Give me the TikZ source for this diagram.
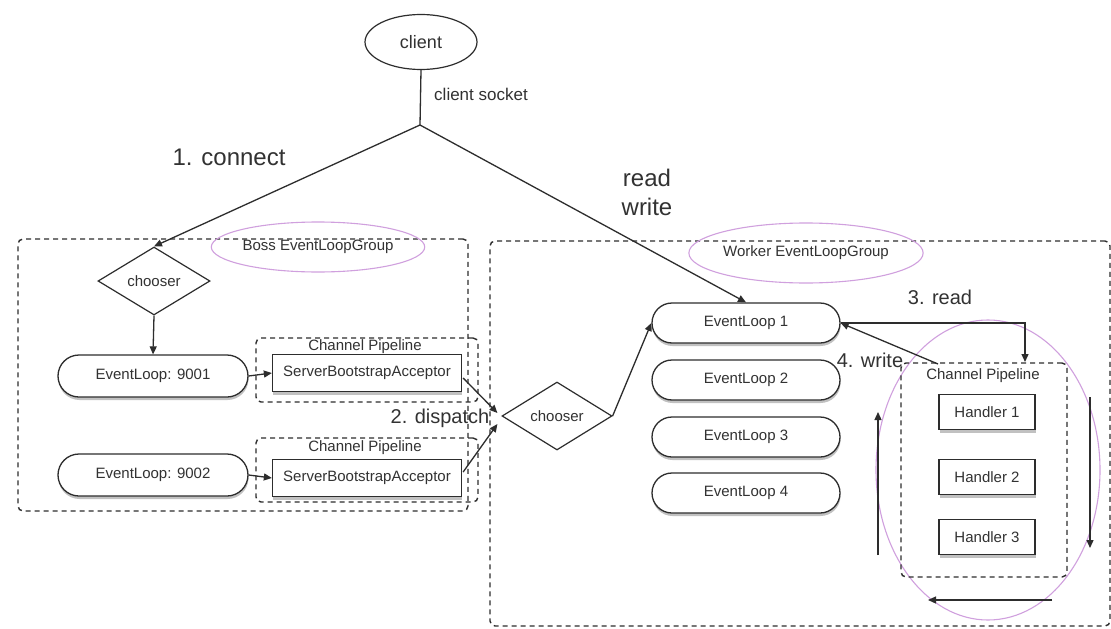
\documentclass[tikz,border=0pt]{standalone}
\usepackage{fontspec}
\setmainfont{Liberation Sans}
\usetikzlibrary{arrows.meta,shapes.geometric,shadows,calc}
\definecolor{ink}{RGB}{45,45,45}
\definecolor{txt}{RGB}{50,50,50}
\definecolor{orchid}{RGB}{208,160,222}
\tikzset{
  every node/.style={text=txt},
  small/.style={font=\fontsize{15}{18}\selectfont},
  mid/.style={font=\fontsize{20}{24}\selectfont},
  big/.style={font=\fontsize{24}{29}\selectfont},
  conn/.style={draw=ink, line width=1.3pt},
  arr/.style={conn, -{Triangle[length=8pt,width=7pt]}},
  grp/.style={draw=ink, line width=1.4pt, dash pattern=on 5pt off 4pt, rounded corners=5pt, inner sep=0pt},
  pinkell/.style={ellipse, draw=orchid, line width=1.1pt, inner sep=0pt, small},
  dia/.style={diamond, draw=ink, line width=1.2pt, inner sep=0pt, small},
  shad/.style={drop shadow={shadow xshift=0.5pt, shadow yshift=-3pt, opacity=0.3, fill=black!80}},
  pill/.style={rectangle, rounded corners=20pt, draw=ink, line width=1.3pt, fill=white, minimum width=188pt, minimum height=40pt, inner sep=0pt, small, shad},
  hbox/.style={rectangle, draw=ink, line width=1.3pt, fill=white, inner sep=0pt, small, shad},
}
\begin{document}
\begin{tikzpicture}[x=1pt,y=-1pt]
\useasboundingbox (0,0) rectangle (1111,629);
\fill[white] (0,0) rectangle (1111,629);

% client
\node[ellipse, draw=ink, line width=1.2pt, minimum width=112pt, minimum height=55pt, inner sep=0pt, font=\fontsize{18}{21}\selectfont] (client) at (421,42) {client};
\coordinate (junc) at (420,125);
\node[font=\fontsize{17}{20}\selectfont] (sock) at (481,94) {client socket};
\node[big] (connect) at (229,157) {1. connect};
\node[big, align=center] (rw) at (647,192) {read\\write};

% Boss group
\node[grp, minimum width=450pt, minimum height=272pt] (boss) at (243,375) {};
\node[pinkell, minimum width=175pt, minimum height=50pt] (bosslbl) at (318,247) {Boss EventLoopGroup};
\node[dia, minimum width=112pt, minimum height=68pt] (ch1) at (154,281) {chooser};

\node[pill, minimum width=190pt, minimum height=42pt, rounded corners=21pt] (el9001) at (153,376) {EventLoop: 9001};
\node[grp, minimum width=222pt, minimum height=64pt] (pp1) at (367,370) {};
\node[small] (pt1) at (365,347) {Channel Pipeline};
\node[hbox, minimum width=189pt, minimum height=37pt] (sba1) at (367,373) {ServerBootstrapAcceptor};

\node[pill, minimum width=190pt, minimum height=42pt, rounded corners=21pt] (el9002) at (153,475) {EventLoop: 9002};
\node[grp, minimum width=222pt, minimum height=64pt] (pp2) at (367,470) {};
\node[small] (pt2) at (365,448) {Channel Pipeline};
\node[hbox, minimum width=189pt, minimum height=37pt] (sba2) at (367,478) {ServerBootstrapAcceptor};

\node[mid] (disp) at (440,418) {2. dispatch};

% Worker group
\node[grp, minimum width=620pt, minimum height=385pt] (worker) at (800,433.5) {};
\node[pinkell, minimum width=190pt, minimum height=60pt] (wlbl) at (806,253) {Worker EventLoopGroup};
\node[dia, minimum width=110pt, minimum height=68pt] (ch2) at (557,416) {chooser};

\node[pill] (el1) at (746,323) {EventLoop 1};
\node[pill] (el2) at (746,380) {EventLoop 2};
\node[pill] (el3) at (746,437) {EventLoop 3};
\node[pill] (el4) at (746,493) {EventLoop 4};

\node[mid] (rd) at (940,297) {3. read};
\node[mid] (wr) at (870,360) {4. write};

\node[ellipse, draw=orchid, line width=1.1pt, minimum width=224pt, minimum height=300pt] (pink) at (988,470) {};
\node[grp, minimum width=166pt, minimum height=214pt] (wpipe) at (984,470) {};
\node[small] (wpt) at (983,376) {Channel Pipeline};
\node[hbox, minimum width=96pt, minimum height=35pt] (h1) at (987,412) {Handler 1};
\node[hbox, minimum width=96pt, minimum height=35pt] (h2) at (987,477) {Handler 2};
\node[hbox, minimum width=96pt, minimum height=35pt] (h3) at (987,537) {Handler 3};

\coordinate (readtip) at (1025,362);
\coordinate (wstart) at (938,364);
\coordinate (upS) at (878,555);
\coordinate (upE) at (878,412);
\coordinate (dnS) at (1090,397);
\coordinate (dnE) at (1090,548);
\coordinate (btS) at (1052,600);
\coordinate (btE) at (928,600);

% connectors
\draw[conn] (client.south) -- (junc);
\draw[arr] (junc) -- (ch1.north);
\draw[arr] (junc) -- (el1.north);
\draw[arr] (ch1.south) -- (el9001.north);
\draw[arr] (el9001.east) -- (sba1.west);
\draw[arr] (el9002.east) -- (sba2.west);
\draw[arr] ($(sba1.east)+(1,5)$) -- ($(ch2.west)+(-4,-3)$);
\draw[arr] ($(sba2.east)+(1,-6)$) -- ($(ch2.west)+(-4,8)$);
\draw[arr] (ch2.east) -- (el1.west);
\draw[arr] (el1.east) -| (readtip);
\draw[arr] (wstart) -- (el1.east);
\draw[arr] (upS) -- (upE);
\draw[arr] (dnS) -- (dnE);
\draw[arr] (btS) -- (btE);
\end{tikzpicture}
\end{document}
